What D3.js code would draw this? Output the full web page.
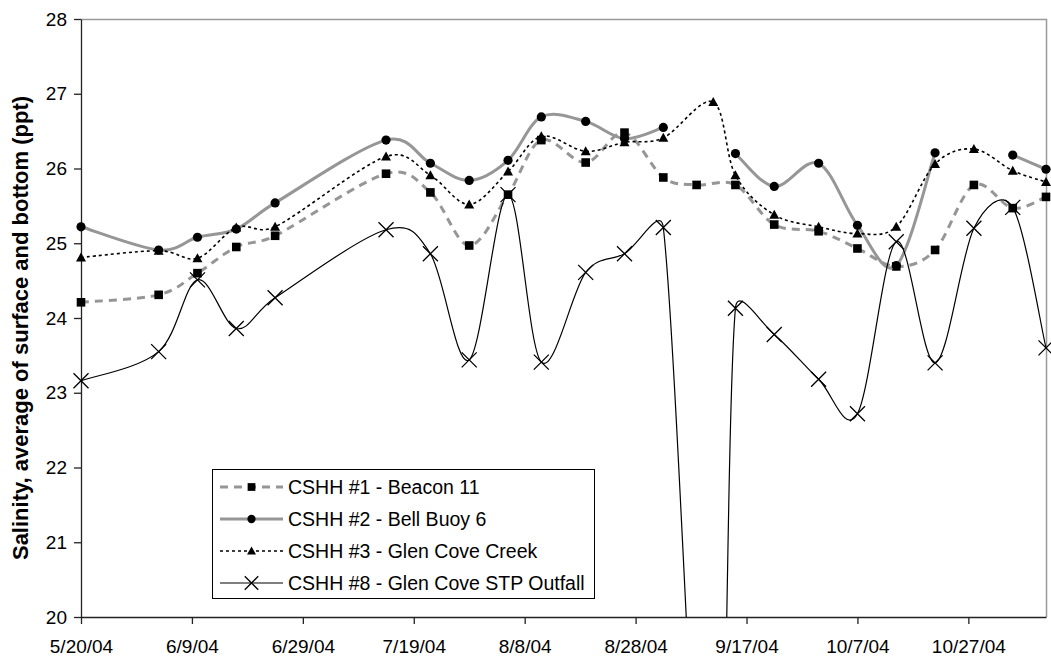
<!DOCTYPE html>
<html>
<head>
<meta charset="utf-8">
<style>
  body { margin: 0; background: #fff; }
  svg text { font-family: "Liberation Sans", Arial, sans-serif; fill: #000; }
</style>
<script src="https://d3js.org/d3.v7.min.js"></script>
</head>
<body>
<div id="chart"></div>
<script>
// sampling dates (shared by all stations)
var sampleDates = ["5/20/04", "6/3/04", "6/10/04", "6/17/04", "6/24/04", "7/14/04", "7/22/04",
  "7/29/04", "8/5/04", "8/11/04", "8/19/04", "8/26/04", "9/2/04", "9/8/04", "9/11/04",
  "9/15/04", "9/22/04", "9/30/04", "10/7/04", "10/14/04", "10/21/04", "10/28/04", "11/4/04", "11/10/04"];

// salinity (ppt), null = no sample
var beacon11 = [24.21, 24.31, 24.60, 24.95, 25.10, 25.93, 25.68, 24.97, 25.65, 26.38, 26.08, 26.48,
  25.88, 25.78, null, 25.78, 25.25, 25.16, 24.93, 24.69, 24.91, 25.78, 25.47, 25.62];
var bellBuoy6 = [25.22, 24.91, 25.08, 25.19, 25.54, 26.38, 26.07, 25.84, 26.11, 26.69, 26.63, 26.40,
  26.55, null, null, 26.20, 25.76, 26.07, 25.24, 24.70, 26.21, null, 26.18, 25.99];
var glenCoveCreek = [24.81, 24.90, 24.80, 25.21, 25.22, 26.16, 25.91, 25.52, 25.96, 26.43, 26.23, 26.35,
  26.41, null, 26.89, 25.91, 25.38, 25.22, 25.13, 25.22, 26.06, 26.26, 25.97, 25.82];
var stpOutfall = [23.16, 23.55, 24.51, 23.86, 24.27, 25.18, 24.86, 23.44, 25.65, 23.41, 24.61, 24.86,
  25.21, null, 14.3, 24.13, 23.78, 23.18, 22.72, 25.02, 23.40, 25.20, 25.48, 23.60];

var seriesNames = ["CSHH #1 - Beacon 11", "CSHH #2 - Bell Buoy 6", "CSHH #3 - Glen Cove Creek", "CSHH #8 - Glen Cove STP Outfall"];
var xTickLabels = ["5/20/04", "6/9/04", "6/29/04", "7/19/04", "8/8/04", "8/28/04", "9/17/04", "10/7/04", "10/27/04"];
var yTicks = [20, 21, 22, 23, 24, 25, 26, 27, 28];
var xDomain = ["5/20/04", "11/10/04"];

var parse = d3.timeParse("%m/%d/%y"),
    fmt = d3.timeFormat("%-m/%-d/%y");

var W = 1051, H = 660,
    plotL = 81, plotR = 1046, plotT = 19, plotB = 617;

// smoothed line like the spreadsheet: bezier through the points,
// handles limited to half the segment so short steps don't overshoot
function smoothCurve(context) {
  var pts;
  function dist(a, b) { return Math.hypot(b[0] - a[0], b[1] - a[1]); }
  return {
    areaStart: function() {}, areaEnd: function() {},
    lineStart: function() { pts = []; },
    point: function(px, py) { pts.push([+px, +py]); },
    lineEnd: function() {
      var n = pts.length;
      if (!n) return;
      context.moveTo(pts[0][0], pts[0][1]);
      for (var i = 0; i < n - 1; i++) {
        var p0 = pts[Math.max(i - 1, 0)], p1 = pts[i], p2 = pts[i + 1], p3 = pts[Math.min(i + 2, n - 1)];
        var seg = dist(p1, p2), d02 = dist(p0, p2), d13 = dist(p1, p3);
        var f1 = d02 ? Math.min(1 / 6, seg / (2 * d02)) : 0,
            f2 = d13 ? Math.min(1 / 6, seg / (2 * d13)) : 0;
        context.bezierCurveTo(
          p1[0] + f1 * (p2[0] - p0[0]), p1[1] + f1 * (p2[1] - p0[1]),
          p2[0] - f2 * (p3[0] - p1[0]), p2[1] - f2 * (p3[1] - p1[1]),
          p2[0], p2[1]);
      }
    }
  };
}

var svg = d3.select("#chart").append("svg")
    .attr("width", W).attr("height", H);
svg.append("rect").attr("width", W).attr("height", H).attr("fill", "#fff");

var x = d3.scaleTime().domain(xDomain.map(parse)).range([plotL, plotR]);
var y = d3.scaleLinear().domain([20, 28]).range([plotB, plotT]);

svg.append("clipPath").attr("id", "plotclip")
  .append("rect").attr("x", 0).attr("y", plotT).attr("width", W).attr("height", plotB - plotT);

// plot area border (top/right grey)
svg.append("path")
    .attr("d", "M" + plotL + "," + (plotT + 0.5) + "H" + (plotR + 0.5) + "V" + plotB)
    .attr("fill", "none").attr("stroke", "#999").attr("stroke-width", 1.5);

// axes
var yAxis = svg.append("g").attr("transform", "translate(" + plotL + ",0)")
    .call(d3.axisLeft(y).tickValues(yTicks).tickSize(7).tickSizeOuter(0).tickPadding(7));
var xAxis = svg.append("g").attr("transform", "translate(0," + plotB + ")")
    .call(d3.axisBottom(x).tickValues(xTickLabels.map(parse)).tickFormat(fmt)
      .tickSize(7).tickSizeOuter(0).tickPadding(16));
[yAxis, xAxis].forEach(function(a) {
  a.selectAll("path, line").attr("stroke", "#222").attr("stroke-width", 1.3);
  a.selectAll("text").style("font-size", "19px").attr("fill", "#000");
});

svg.append("text")
    .attr("transform", "translate(28,328) rotate(-90)")
    .attr("text-anchor", "middle")
    .style("font-size", "22px").style("font-weight", "bold")
    .text("Salinity, average of surface and bottom (ppt)");

// series styles
var series = [
  { values: beacon11, stroke: "#969696", width: 3, dash: "8,6", marker: "square", gaps: false },
  { values: bellBuoy6, stroke: "#969696", width: 3, dash: null, marker: "circle", gaps: true },
  { values: glenCoveCreek, stroke: "#000", width: 1.6, dash: "3,3", marker: "triangle", gaps: false },
  { values: stpOutfall, stroke: "#000", width: 1.2, dash: null, marker: "cross", gaps: false }
];

function drawMarker(g, type, cx, cy, s) {
  if (type === "square") {
    g.append("rect").attr("x", cx - 4.3 * s).attr("y", cy - 4.3 * s)
      .attr("width", 8.6 * s).attr("height", 8.6 * s).attr("fill", "#000");
  } else if (type === "circle") {
    g.append("circle").attr("cx", cx).attr("cy", cy).attr("r", 4.6 * s).attr("fill", "#000");
  } else if (type === "triangle") {
    g.append("path").attr("fill", "#000")
      .attr("d", "M" + cx + "," + (cy - 5 * s) + "L" + (cx + 5 * s) + "," + (cy + 4 * s) +
        "L" + (cx - 5 * s) + "," + (cy + 4 * s) + "Z");
  } else {
    var r = 7.5 * s;
    g.append("path").attr("stroke", "#000").attr("stroke-width", 1.3).attr("fill", "none")
      .attr("d", "M" + (cx - r) + "," + (cy - r) + "L" + (cx + r) + "," + (cy + r) +
        "M" + (cx - r) + "," + (cy + r) + "L" + (cx + r) + "," + (cy - r));
  }
}

series.forEach(function(s) {
  var pts = sampleDates.map(function(d, i) { return { date: parse(d), v: s.values[i] }; });
  if (!s.gaps) pts = pts.filter(function(p) { return p.v != null; });
  var line = d3.line()
      .defined(function(p) { return p.v != null; })
      .x(function(p) { return x(p.date); })
      .y(function(p) { return y(p.v); })
      .curve(smoothCurve);
  var g = svg.append("g");
  g.append("path").datum(pts)
      .attr("clip-path", "url(#plotclip)")
      .attr("d", line)
      .attr("fill", "none")
      .attr("stroke", s.stroke)
      .attr("stroke-width", s.width)
      .attr("stroke-dasharray", s.dash);
  pts.forEach(function(p) {
    if (p.v == null || p.v < 20 || p.v > 28) return;
    drawMarker(g, s.marker, x(p.date), y(p.v), 1);
  });
});

// legend
var lg = svg.append("g");
lg.append("rect").attr("x", 212.5).attr("y", 469.5).attr("width", 382).attr("height", 129)
    .attr("fill", "#fff").attr("stroke", "#000").attr("stroke-width", 1);
series.forEach(function(s, i) {
  var ry = 487 + i * 32;
  lg.append("line").attr("x1", 220).attr("x2", 283).attr("y1", ry).attr("y2", ry)
    .attr("stroke", s.stroke).attr("stroke-width", s.width).attr("stroke-dasharray", s.dash);
  drawMarker(lg, s.marker, 251.5, ry, 0.9);
  lg.append("text").attr("x", 288).attr("y", ry).attr("dy", "0.36em")
    .style("font-size", "19.5px").text(seriesNames[i]);
});
</script>
</body>
</html>
